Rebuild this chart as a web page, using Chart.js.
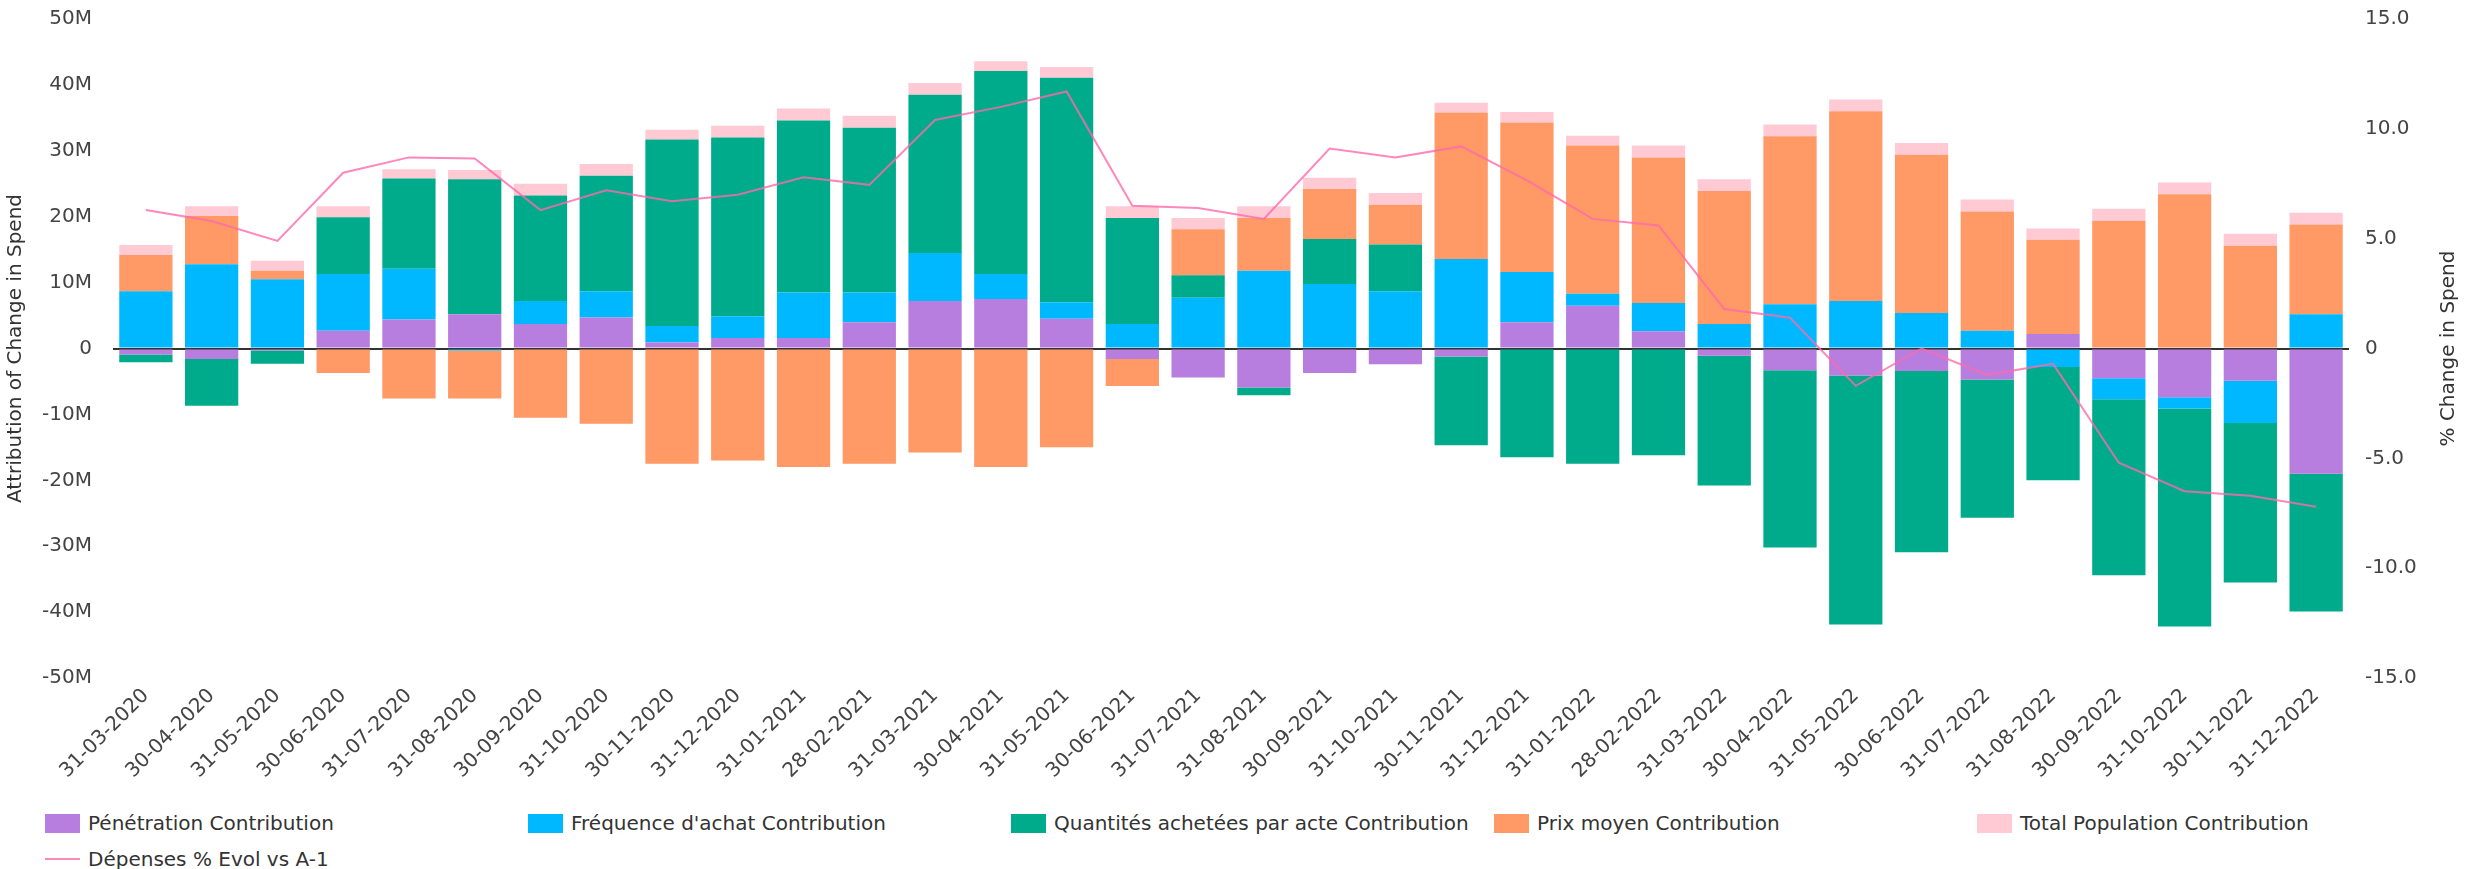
<!DOCTYPE html>
<html>
<head>
<meta charset="utf-8">
<script src="https://cdn.jsdelivr.net/npm/chart.js@4.4.1/dist/chart.umd.min.js"></script>
<style>
  html, body { margin: 0; padding: 0; background: #fff; }
  #wrap { position: relative; width: 2473px; height: 869px; }
  #legend {
    position: absolute; left: 45px; top: 811px;
    display: grid; grid-template-columns: repeat(5, 483px); row-gap: 12px;
    font-family: 'DejaVu Sans', sans-serif; font-size: 20px; color: #333;
  }
  .item { display: flex; align-items: center; height: 24px; white-space: nowrap; }
  .sw { width: 35px; height: 19px; margin-right: 8px; }
  .ln { width: 35px; height: 2px; margin-right: 8px; }
</style>
</head>
<body>
<div id="wrap">
  <canvas id="spendChart" width="2473" height="800"></canvas>
  <div id="legend"></div>
</div>
<script>
// month ends
const months = ['31-03-2020', '30-04-2020', '31-05-2020', '30-06-2020', '31-07-2020', '31-08-2020',
  '30-09-2020', '31-10-2020', '30-11-2020', '31-12-2020', '31-01-2021', '28-02-2021', '31-03-2021',
  '30-04-2021', '31-05-2021', '30-06-2021', '31-07-2021', '31-08-2021', '30-09-2021', '31-10-2021',
  '30-11-2021', '31-12-2021', '31-01-2022', '28-02-2022', '31-03-2022', '30-04-2022', '31-05-2022',
  '30-06-2022', '31-07-2022', '31-08-2022', '30-09-2022', '31-10-2022', '30-11-2022', '31-12-2022'];

// contributions, in millions
const penetration = [-0.9, -1.6, -0.3, 2.7, 4.4, 5.2, 3.7, 4.7, 0.9, 1.6, 1.6, 4.0, 7.2, 7.5, 4.5, -1.6, -4.4,
  -5.9, -3.7, -2.4, -1.2, 4.0, 6.5, 2.6, -1.1, -3.3, -4.1, -3.4, -4.7, 2.2, -4.5, -7.4, -4.9, -19.0];
const frequence = [8.7, 12.8, 10.5, 8.6, 7.7, -0.3, 3.5, 4.0, 2.5, 3.3, 6.9, 4.5, 7.3, 3.8, 2.5, 3.7, 7.7,
  11.8, 9.8, 8.7, 13.6, 7.6, 1.8, 4.3, 3.7, 6.7, 7.2, 5.4, 2.7, -2.8, -3.2, -1.7, -6.4, 5.2];
const quantites = [-1.2, -7.1, -2.0, 8.6, 13.7, 20.5, 16.0, 17.5, 28.3, 27.1, 26.1, 25.0, 24.0, 30.8, 34.1,
  16.1, 3.4, -1.2, 6.8, 7.1, -13.5, -16.5, -17.5, -16.2, -19.7, -26.9, -37.8, -27.5, -21.0, -17.2, -26.7,
  -33.1, -24.2, -20.9];
const prixMoyen = [5.5, 7.3, 1.3, -3.7, -7.6, -7.3, -10.5, -11.4, -17.5, -17.0, -18.0, -17.5, -15.8, -18.0,
  -15.0, -4.1, 7.0, 8.0, 7.6, 6.0, 22.2, 22.7, 22.5, 22.1, 20.2, 25.5, 28.8, 24.0, 18.1, 14.3, 19.4, 23.4,
  15.6, 13.6];
const population = [1.5, 1.5, 1.5, 1.7, 1.4, 1.4, 1.8, 1.8, 1.5, 1.8, 1.8, 1.8, 1.8, 1.5, 1.6, 1.8, 1.7,
  1.8, 1.7, 1.8, 1.5, 1.6, 1.5, 1.8, 1.8, 1.8, 1.8, 1.8, 1.8, 1.7, 1.8, 1.8, 1.8, 1.8];

// % change vs previous year
const evolPct = [6.3, 5.8, 4.9, 8.0, 8.7, 8.65, 6.3, 7.2, 6.7, 7.0, 7.8, 7.45, 10.4, 11.0, 11.7, 6.5, 6.4,
  5.9, 9.1, 8.7, 9.2, 7.65, 5.9, 5.6, 1.8, 1.4, -1.7, 0.0, -1.2, -0.7, -5.2, -6.5, -6.7, -7.2];

const fontFamily = "'DejaVu Sans', sans-serif";

let barSet = (label, data, color) => ({
    type: 'bar',
    label: label,
    data: data,
    backgroundColor: color,
    yAxisID: 'y',
    stack: 'contrib',
    order: 1,
    categoryPercentage: 0.81,
    barPercentage: 1
});

// fixed axis boxes so the plot area lands where the original one is
let fixVertical = width => s => {
    s.width = width;
    s.paddingTop = 0;
    s.paddingBottom = 0;
};

// right axis title reads bottom-to-top, chart.js would rotate it the other way
const rightTitle = {
    id: 'rightTitle',
    afterDraw(chart) {
        let ctx = chart.ctx;
        let area = chart.chartArea;
        ctx.save();
        ctx.translate(2449, (area.top + area.bottom) / 2);
        ctx.rotate(-Math.PI / 2);
        ctx.font = '20px ' + fontFamily;
        ctx.fillStyle = '#333';
        ctx.textAlign = 'center';
        ctx.textBaseline = 'middle';
        ctx.fillText('% Change in Spend', 0, 0);
        ctx.restore();
    }
};

let ctx = document.getElementById('spendChart').getContext('2d');
let chart = new Chart(ctx, {
    data: {
        labels: months,
        datasets: [
            barSet('Pénétration Contribution', penetration, '#b77ee0'),
            barSet("Fréquence d'achat Contribution", frequence, '#00b8ff'),
            barSet('Quantités achetées par acte Contribution', quantites, '#00ab8c'),
            barSet('Prix moyen Contribution', prixMoyen, '#ff9966'),
            barSet('Total Population Contribution', population, '#ffcad4'),
            {
                type: 'line',
                label: 'Dépenses % Evol vs A-1',
                data: evolPct,
                borderColor: 'rgba(255, 105, 170, 0.8)',
                borderWidth: 2,
                pointRadius: 0,
                tension: 0,
                yAxisID: 'y1',
                order: 0
            }
        ]
    },
    options: {
        responsive: false,
        animation: false,
        layout: { padding: { top: 19, left: 0, right: 0, bottom: 0 } },
        plugins: {
            legend: { display: false },
            tooltip: { enabled: false }
        },
        scales: {
            x: {
                stacked: true,
                grid: { display: false, drawTicks: false },
                border: { display: false },
                ticks: {
                    autoSkip: false, maxRotation: 45, minRotation: 45, padding: 6,
                    color: '#444', font: { family: fontFamily, size: 20 }
                },
                afterFit: s => { s.height = 122; }
            },
            y: {
                position: 'left',
                stacked: true,
                min: -50, max: 50,
                grid: {
                    drawTicks: false,
                    lineWidth: 2,
                    color: c => c.tick.value === 0 ? '#333' : 'rgba(0,0,0,0)'
                },
                border: { display: false },
                ticks: {
                    stepSize: 10, padding: 21, color: '#444',
                    font: { family: fontFamily, size: 20 },
                    callback: v => v === 0 ? '0' : v + 'M'
                },
                title: {
                    display: true, text: 'Attribution of Change in Spend',
                    color: '#333', font: { family: fontFamily, size: 20 }
                },
                afterFit: fixVertical(113)
            },
            y1: {
                position: 'right',
                min: -15, max: 15,
                grid: { display: false, drawTicks: false },
                border: { display: false },
                ticks: {
                    stepSize: 5, padding: 16, color: '#444',
                    font: { family: fontFamily, size: 20 },
                    callback: v => v === 0 ? '0' : v.toFixed(1)
                },
                afterFit: fixVertical(124)
            }
        }
    },
    plugins: [rightTitle]
});

// html legend, five columns
let legendBox = document.getElementById('legend');
chart.data.datasets.forEach(ds => {
    let item = document.createElement('div');
    item.className = 'item';
    let mark = document.createElement('span');
    if (ds.type === 'line') {
        mark.className = 'ln';
        mark.style.background = ds.borderColor;
    } else {
        mark.className = 'sw';
        mark.style.background = ds.backgroundColor;
    }
    item.appendChild(mark);
    item.appendChild(document.createTextNode(ds.label));
    legendBox.appendChild(item);
});
</script>
</body>
</html>
